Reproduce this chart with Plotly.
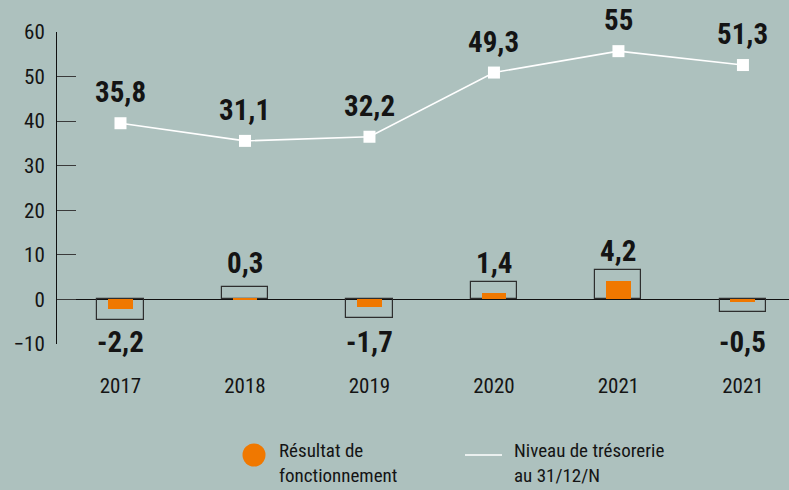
import plotly.graph_objects as go

# Data
years = ["2017", "2018", "2019", "2020", "2021", "2021"]
resultat = [-2.2, 0.3, -1.7, 1.4, 4.2, -0.5]          # Résultat de fonctionnement
tresorerie = [35.8, 31.1, 32.2, 49.3, 55.0, 51.3]      # Niveau de trésorerie au 31/12/N
y_ticks = [-10, 0, 10, 20, 30, 40, 50, 60]

# Style
BG = "#adc1be"
ORANGE = "#f07800"
FRAME = "#2e2e2e"
INK = "#141414"
FONT = "Roboto Condensed, Open Sans Condensed, sans-serif"
W, H = 789, 490
ML, MR, MT, MB = 57, 0, 32, 146
FRAME_PAD = 2.4

xs = list(range(len(years)))
sign = [1 if v >= 0 else -1 for v in resultat]
frame = [v + s * FRAME_PAD for v, s in zip(resultat, sign)]

fig = go.Figure()

# Outlined box around each result bar
fig.add_trace(go.Bar(
    x=xs, y=frame, width=0.37, showlegend=False, hoverinfo="skip",
    marker=dict(color="rgba(0,0,0,0)", line=dict(color=FRAME, width=1.2)),
))
# Result bars
fig.add_trace(go.Bar(
    x=xs, y=resultat, width=0.2, name="Résultat de fonctionnement", showlegend=False,
    marker=dict(color=ORANGE, line=dict(width=0)),
))
# Cash level line on its own hidden scale
fig.add_trace(go.Scatter(
    x=xs, y=tresorerie, yaxis="y2", mode="lines+markers",
    name="Niveau de trésorerie au 31/12/N", showlegend=False,
    line=dict(color="white", width=1.6),
    marker=dict(symbol="square", size=12, color="white", line=dict(width=0)),
))

def fmt(v):
    s = f"{v:.1f}".rstrip("0").rstrip(".")
    return s.replace(".", ",")

annotations = []
bold = dict(family=FONT, size=29, color=INK, weight="bold")
for x, v in zip(xs, tresorerie):
    annotations.append(dict(x=x, y=v, xref="x", yref="y2", text=fmt(v), showarrow=False,
                            font=bold, yanchor="middle", yshift=31))
for x, v, f in zip(xs, resultat, frame):
    if v >= 0:
        annotations.append(dict(x=x, y=max(f, 3.8), xref="x", yref="y", text=fmt(v),
                                showarrow=False, font=bold, yanchor="middle", yshift=19))
    else:
        annotations.append(dict(x=x, y=-10, xref="x", yref="y", text=fmt(v),
                                showarrow=False, font=bold, yanchor="middle", yshift=2))

# Legend drawn below the plot
pw, ph = W - ML - MR, H - MT - MB
def px_x(p):
    return (p - ML) / pw
def px_y(p):
    return (H - MB - p) / ph

reg = dict(family=FONT, size=21, color=INK)
leg = dict(family=FONT, size=19, color=INK)
legend_text = [
    (277, "Résultat de<br>fonctionnement"),
    (512, "Niveau de trésorerie<br>au 31/12/N"),
]
for lx, t in legend_text:
    annotations.append(dict(x=px_x(lx), y=px_y(463), xref="paper", yref="paper", text=t,
                            showarrow=False, font=leg, xanchor="left", yanchor="middle",
                            align="left"))

shapes = [
    dict(type="circle", xref="paper", yref="paper",
         x0=px_x(242.5), x1=px_x(265.5), y0=px_y(443.5), y1=px_y(466.5),
         fillcolor=ORANGE, line=dict(width=0)),
    dict(type="line", xref="paper", yref="paper",
         x0=px_x(465), x1=px_x(502), y0=px_y(455), y1=px_y(455),
         line=dict(color="white", width=1.5)),
]

fig.update_layout(
    width=W, height=H, margin=dict(l=ML, r=MR, t=MT, b=MB),
    paper_bgcolor=BG, plot_bgcolor=BG, barmode="overlay", bargap=0,
    font=reg, annotations=annotations, shapes=shapes, showlegend=False,
    xaxis=dict(range=[-0.51, 5.37], tickvals=xs, ticktext=years, showgrid=False,
               zeroline=False, showline=False, ticks="", tickfont=reg,
               ticklabelstandoff=27, fixedrange=True),
    yaxis=dict(range=[-10, 60], tickvals=y_ticks, showgrid=False, zeroline=True,
               zerolinecolor="#111111", zerolinewidth=1, showline=True,
               linecolor="#111111", linewidth=1, ticks="inside", ticklen=19,
               tickcolor="#3a3a3a", tickwidth=1, tickfont=reg, ticklabelstandoff=7),
    yaxis2=dict(range=[-23.0, 60.1], overlaying="y", visible=False),
)

fig.write_html("out.html")
